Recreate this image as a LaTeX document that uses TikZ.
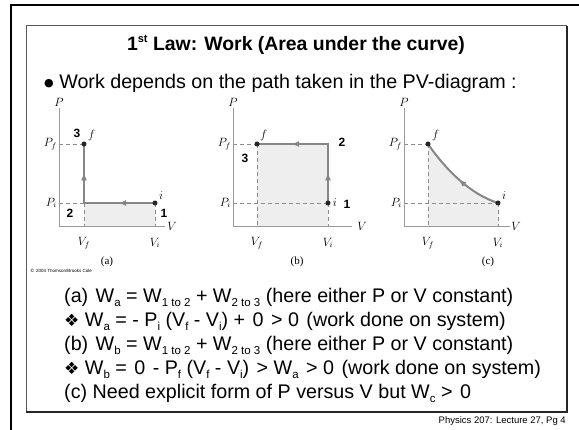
\documentclass[tikz,border=0pt]{standalone}
\usepackage[no-math]{fontspec}
\usepackage{tikz}
\usepackage{amsmath}
\usetikzlibrary{arrows.meta,positioning,calc}
\setmainfont{Liberation Sans}
\newfontfamily\symfont{DejaVu Sans}
\newfontfamily\figfont{Liberation Serif}
\newcommand{\lo}[1]{\raisebox{-0.35ex}{\fontsize{11.5}{11.5}\selectfont #1}}
\newcommand{\gap}{\ \kern2pt}

\begin{document}
\begin{tikzpicture}[
    x=1pt, y=-1pt,
    pvaxis/.style={draw=gray!80, line width=0.7pt},
    guide/.style={draw=gray!90, dashed, dash pattern=on 4pt off 3pt, line width=0.6pt},
    work/.style={draw=gray!95, line width=2pt, line join=miter},
    worktip/.style={draw=gray!95, line width=2pt, -{Latex[length=8pt,width=6pt]}},
    area/.style={fill=gray!13, draw=none},
    dot/.style={circle, fill=black!85, inner sep=0pt, minimum size=5pt},
    lbl/.style={font=\fontsize{11.5}{11.5}\selectfont, inner sep=1pt},
    stepnum/.style={font=\fontsize{12}{12}\selectfont\bfseries, inner sep=1pt},
    figcap/.style={font=\figfont\fontsize{11}{11}\selectfont, inner sep=1pt},
    eqline/.style={anchor=base west, font=\fontsize{19.7}{19.7}\selectfont, inner sep=0pt}
]
\useasboundingbox (0,0) rectangle (579,430);

% Frames
\draw[line width=2.2pt] (11,430) -- (11,5) -- (579,5);
\draw[gray!70!black, line width=1pt] (26,412) -- (26,26) -- (567,26);
\draw[black!85, line width=1.2pt] (567,26) -- (567,412) -- (26,412);

% Title and bullet
\node[font=\fontsize{19.4}{19.4}\selectfont\bfseries] (title) at (296,45)
    {1\raisebox{0.7ex}{\fontsize{11}{11}\selectfont st} Law: Work (Area under the curve)};
\node[anchor=west, font=\fontsize{19.7}{19.7}\selectfont, inner sep=0pt] (intro) at (44,83)
    {\raisebox{0.2ex}{\symfont\fontsize{11}{11}\selectfont ●} Work depends on the path taken in the PV-diagram :};

% Diagram (a)
\coordinate (ai) at (155,203);
\coordinate (af) at (84,144);
\coordinate (ac) at (84,203);
\fill[area] (ac) rectangle (155,226);
\draw[guide] (59,144) -- (af);
\draw[guide] (59,203) -- (ac);
\draw[guide] (ac) -- (84,226);
\draw[guide] (ai) -- (155,226);
\draw[pvaxis] (59,108) -- (59,226) -- (165,226);
\draw[work] (ai) -- (ac) -- (af);
\draw[worktip] ($(ai)!0.40!(ac)$) -- ($(ai)!0.52!(ac)$);
\draw[worktip] ($(ac)!0.40!(af)$) -- ($(ac)!0.52!(af)$);
\node[dot] (ia) at (ai) {};
\node[dot] (fa) at (af) {};
\node[lbl] at (59,102) {$P$};
\node[lbl, anchor=east] at (58,144) {$P_f$};
\node[lbl, anchor=east] at (58,203) {$P_i$};
\node[lbl] at (172,226) {$V$};
\node[lbl] at (84,243) {$V_f$};
\node[lbl] at (155,243) {$V_i$};
\node[lbl, above right=0pt and 1pt of fa] {$f$};
\node[lbl, above right=0pt and 1pt of ia] {$i$};
\node[stepnum] at (77,133) {3};
\node[stepnum] at (70,213) {2};
\node[stepnum] at (164,213) {1};
\node[figcap] at (107,262) {(a)};
\node[font=\fontsize{4.5}{4.5}\selectfont, anchor=west, inner sep=0pt] (copy) at (30,271)
    {\symfont ©\ \rmfamily 2004 Thomson/Brooks Cole};

% Diagram (b)
\coordinate (bi) at (328,203);
\coordinate (bf) at (257,144);
\coordinate (bc) at (328,144);
\fill[area] (bf) rectangle (328,226);
\draw[guide] (233,144) -- (bf);
\draw[guide] (233,203) -- (bi);
\draw[guide] (bf) -- (257,226);
\draw[guide] (bi) -- (328,226);
\draw[pvaxis] (233,108) -- (233,226) -- (352,226);
\draw[work] (bi) -- (bc) -- (bf);
\draw[worktip] ($(bi)!0.40!(bc)$) -- ($(bi)!0.52!(bc)$);
\draw[worktip] ($(bc)!0.40!(bf)$) -- ($(bc)!0.52!(bf)$);
\node[dot] (ib) at (bi) {};
\node[dot] (fb) at (bf) {};
\node[lbl] at (233,102) {$P$};
\node[lbl, anchor=east] at (232,144) {$P_f$};
\node[lbl, anchor=east] at (232,203) {$P_i$};
\node[lbl] at (362,226) {$V$};
\node[lbl] at (257,243) {$V_f$};
\node[lbl] at (328,243) {$V_i$};
\node[lbl, above right=0pt and 0pt of fb] {$f$};
\node[lbl, right=1pt of ib] {$i$};
\node[stepnum] at (245,158) {3};
\node[stepnum] at (342,142) {2};
\node[stepnum] at (347,204) {1};
\node[figcap] at (297,262) {(b)};

% Diagram (c)
\coordinate (ci) at (498,203);
\coordinate (cf) at (428,144);
\fill[area] (cf) .. controls (446,170) and (470,194) .. (ci) -- (498,226) -- (428,226) -- cycle;
\draw[guide] (404,144) -- (cf);
\draw[guide] (404,203) -- (ci);
\draw[guide] (cf) -- (428,226);
\draw[guide] (ci) -- (498,226);
\draw[pvaxis] (404,108) -- (404,226) -- (510,226);
\draw[work] (ci) .. controls (470,194) and (446,170) .. (cf);
\draw[worktip] (465,185) -- (458.5,179.2);
\node[dot] (ic) at (ci) {};
\node[dot] (fc) at (cf) {};
\node[lbl] at (404,102) {$P$};
\node[lbl, anchor=east] at (403,144) {$P_f$};
\node[lbl, anchor=east] at (403,203) {$P_i$};
\node[lbl] at (516,226) {$V$};
\node[lbl] at (428,243) {$V_f$};
\node[lbl] at (498,243) {$V_i$};
\node[lbl, above right=0pt and 1pt of fc] {$f$};
\node[lbl, above right=0pt and 1pt of ic] {$i$};
\node[figcap] at (488,262) {(c)};

% Equations
\node[eqline] (eqa) at (64,303)
    {(a)\gap W\lo{a} = W\lo{1 to 2} + W\lo{2 to 3} (here either P or V constant)};
\node[eqline] (resa) at (64,327)
    {{\symfont\fontsize{17}{17}\selectfont ❖} W\lo{a} = - P\lo{i} (V\lo{f} - V\lo{i}) +\gap 0\gap > 0\gap (work done on system)};
\node[eqline] (eqb) at (64,351)
    {(b)\gap W\lo{b} = W\lo{1 to 2} + W\lo{2 to 3} (here either P or V constant)};
\node[eqline] (resb) at (64,375)
    {{\symfont\fontsize{17}{17}\selectfont ❖} W\lo{b} =\gap 0\gap - P\lo{f} (V\lo{f} - V\lo{i})\gap > W\lo{a}\gap > 0\gap (work done on system)};
\node[eqline] (eqc) at (64,399)
    {(c) Need explicit form of P versus V but W\lo{c} >\gap 0};

% Footer
\node[font=\fontsize{9.5}{9.5}\selectfont, anchor=east, inner sep=0pt] (foot) at (566,421)
    {Physics 207: Lecture 27, Pg 4};
\end{tikzpicture}
\end{document}
